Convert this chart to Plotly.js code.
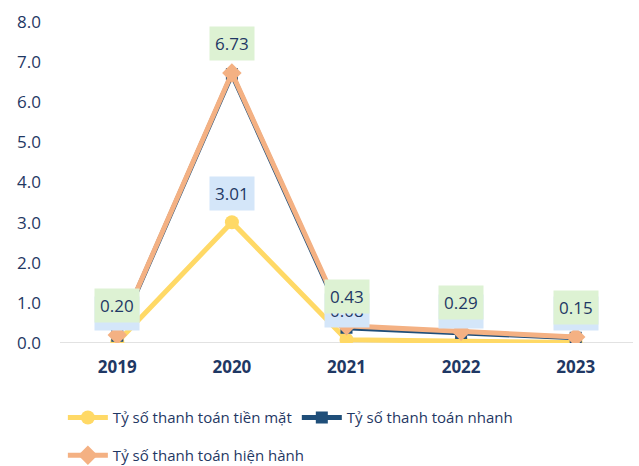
<!DOCTYPE html>
<html><head><meta charset="utf-8">
<script src="https://cdn.plot.ly/plotly-3.0.1.min.js"></script>
<style>body{margin:0;background:#fff}#c{width:639px;height:466px}</style>
</head><body><div id="c"></div>
<script>
const years = ['2019','2020','2021','2022','2023'];
const cashRatio = [0.02, 3.01, 0.08, 0.05, 0.01];
const quickRatio = [0.18, 6.70, 0.38, 0.25, 0.13];
const currentRatio = [0.20, 6.73, 0.43, 0.29, 0.15];
const cashLabels = ['0.02','3.01','0.08','0.05','0.01'];
const currentLabels = ['0.20','6.73','0.43','0.29','0.15'];

const navy = '#1F3864';
const cYellow = '#FFD966', cBlue = '#1F4E79', cSalmon = '#F4B183';
const fam = 'Open Sans';

const traces = [
  {x: years, y: cashRatio, name: 'Tỷ số thanh toán tiền mặt', type: 'scatter', mode: 'lines+markers',
   line: {color: cYellow, width: 5}, marker: {symbol: 'circle', size: 14, color: cYellow}, legend: 'legend'},
  {x: years, y: quickRatio, name: 'Tỷ số thanh toán nhanh', type: 'scatter', mode: 'lines+markers',
   line: {color: cBlue, width: 5}, marker: {symbol: 'square', size: 12, color: cBlue}, legend: 'legend'},
  {x: years, y: currentRatio, name: 'Tỷ số thanh toán hiện hành', type: 'scatter', mode: 'lines+markers',
   line: {color: cSalmon, width: 5}, marker: {symbol: 'diamond', size: 15, color: cSalmon}, legend: 'legend2'}
];

const annotations = [];
years.forEach((yr, i) => {
  annotations.push({xref: 'x', yref: 'y', x: i, y: cashRatio[i], text: cashLabels[i], showarrow: false, yshift: 29,
    bgcolor: '#D4E6F9', borderpad: 5, font: {size: 17, color: navy, family: fam}});
});
years.forEach((yr, i) => {
  annotations.push({xref: 'x', yref: 'y', x: i, y: currentRatio[i], text: currentLabels[i], showarrow: false, yshift: 29,
    bgcolor: '#DDF2D3', borderpad: 5, font: {size: 17, color: navy, family: fam}});
});

const legFont = {size: 15, color: navy, family: fam};
const layout = {
  width: 639, height: 466,
  margin: {l: 60, r: 6, t: 22, b: 123, autoexpand: false},
  paper_bgcolor: '#fff', plot_bgcolor: '#fff',
  font: {family: fam, color: navy},
  showlegend: true,
  legend: {orientation: 'h', x: 0.005, xanchor: 'left', yref: 'container', y: 0.139, yanchor: 'top',
    font: legFont, itemwidth: 40, bgcolor: 'rgba(0,0,0,0)'},
  legend2: {orientation: 'h', x: 0.005, xanchor: 'left', yref: 'container', y: 0.058, yanchor: 'top',
    font: legFont, itemwidth: 40, bgcolor: 'rgba(0,0,0,0)'},
  xaxis: {type: 'category', range: [-0.5, 4.5], showgrid: false, zeroline: false, showline: false,
    ticks: '', tickfont: {size: 17, color: navy, family: fam, weight: 'bold'}, ticklabelstandoff: 12},
  yaxis: {range: [0, 8], dtick: 1, tickformat: '.1f', showgrid: false, zeroline: false,
    showline: false, ticks: '', tickfont: {size: 17, color: navy, family: fam}, ticklabelstandoff: 18},
  shapes: [{type: 'line', xref: 'paper', x0: 0, x1: 1, yref: 'y', y0: 0, y1: 0,
    line: {color: '#D9D9D9', width: 1.5}, layer: 'below'}],
  annotations: annotations
};
Plotly.newPlot('c', traces, layout, {displayModeBar: false, staticPlot: true});
</script></body></html>
